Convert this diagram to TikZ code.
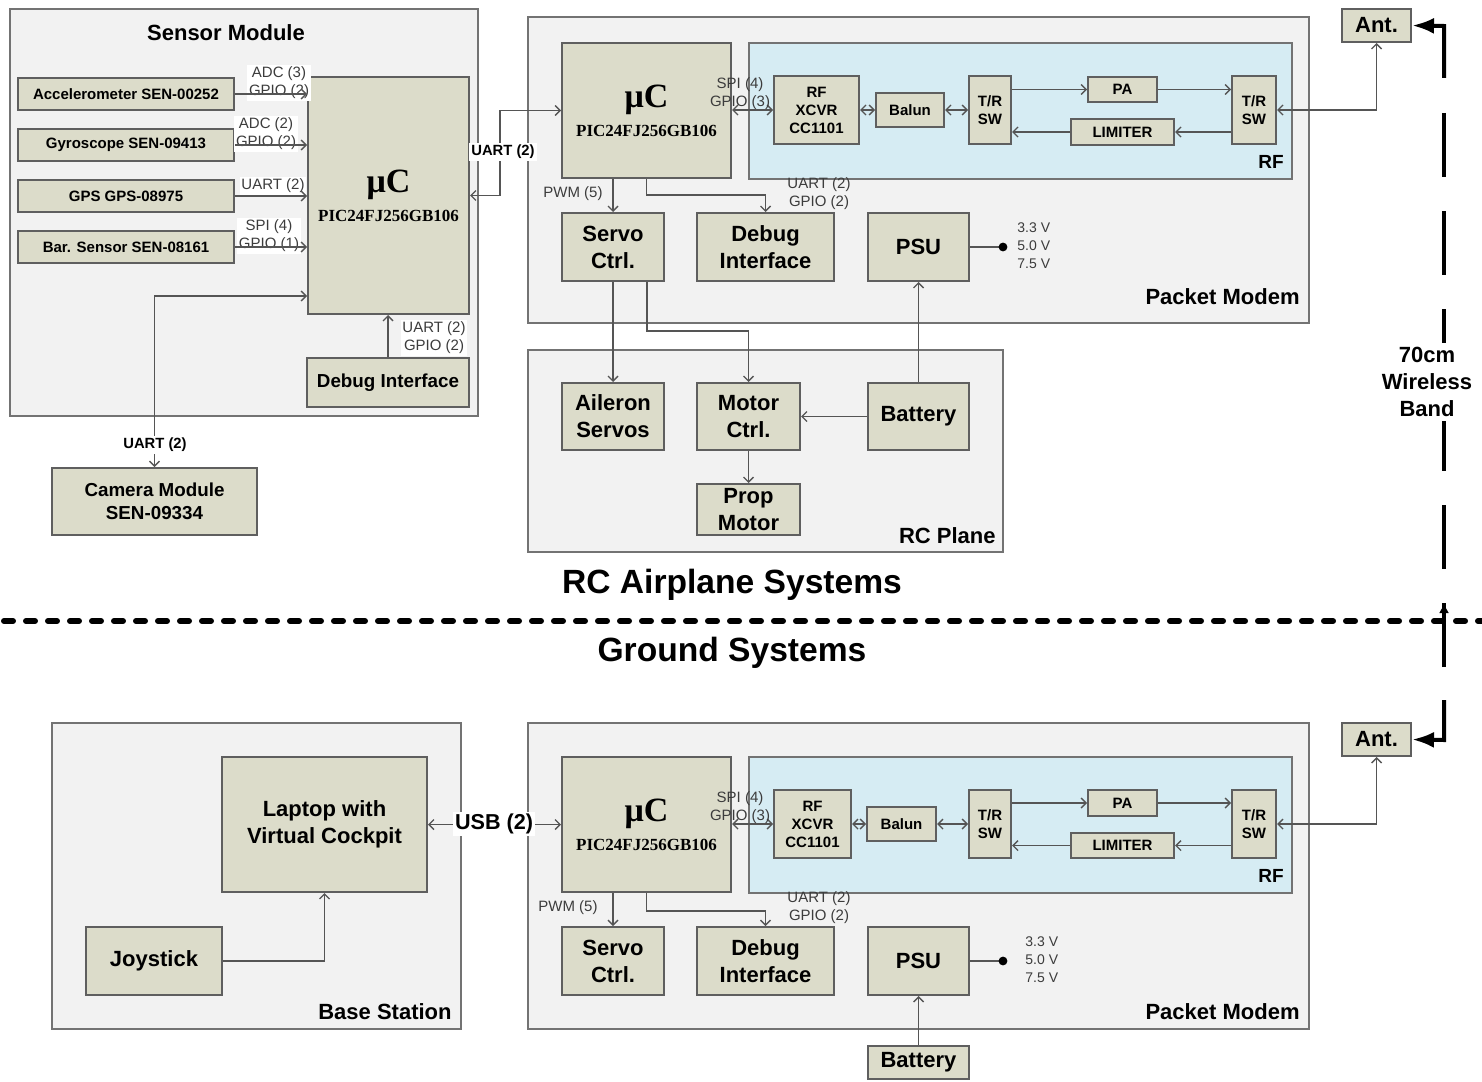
\documentclass[tikz,border=0pt]{standalone}
\usepackage{fontspec}
\setmainfont{Liberation Sans}
\newfontfamily\serifb{Liberation Serif}[BoldFont={* Bold}]
\usetikzlibrary{arrows.meta,calc}
\definecolor{boxfill}{RGB}{220,220,202}
\definecolor{boxdraw}{RGB}{95,95,95}
\definecolor{contfill}{RGB}{242,242,242}
\definecolor{contdraw}{RGB}{115,115,115}
\definecolor{rffill}{RGB}{214,236,243}
\definecolor{linec}{RGB}{85,85,85}
\definecolor{lblc}{RGB}{60,60,60}
\tikzset{
  cont/.style={draw=contdraw, fill=contfill, line width=1pt, inner sep=0pt},
  rfcont/.style={draw=contdraw, fill=rffill, line width=1pt, inner sep=0pt},
  bx/.style={draw=boxdraw, fill=boxfill, line width=1pt, inner sep=0pt, align=center,
    font=\bfseries\fontsize{11}{13.5}\selectfont},
  sbx/.style={bx, font=\bfseries\fontsize{7.5}{9}\selectfont},
  mbx/.style={bx, font=\bfseries\fontsize{9.4}{11.5}\selectfont},
  mcu/.style={bx},
  ttl/.style={font=\bfseries\fontsize{11}{13}\selectfont, inner sep=0pt},
  big/.style={font=\bfseries\fontsize{16.8}{20}\selectfont, inner sep=0pt},
  lbl/.style={font=\fontsize{7.5}{9}\selectfont, align=center, inner sep=0.8pt, text=lblc},
  wlbl/.style={lbl, fill=white},
  blbl/.style={font=\bfseries\fontsize{7.4}{9}\selectfont, align=center, inner sep=1pt, fill=white},
  vlbl/.style={font=\fontsize{7}{9}\selectfont, align=left, inner sep=0pt, text=lblc},
  conn/.style={draw=linec, line width=0.7pt},
  arr/.style={conn, -{Straight Barb[length=2.5pt,width=5pt]}},
  darr/.style={conn, {Straight Barb[length=2.5pt,width=5pt]}-{Straight Barb[length=2.5pt,width=5pt]}},
  wls/.style={draw=black, line width=2pt},
  bigtip/.style={-{Latex[length=11pt,width=8pt]}},
}
\newcommand{\mcutext}{{\serifb\bfseries\fontsize{17}{17}\selectfont μC}\\[1pt]{\serifb\bfseries\fontsize{8.5}{10}\selectfont PIC24FJ256GB106}}
\begin{document}
\begin{tikzpicture}[x=0.5pt,y=-0.5pt]
\fill[white] (0,0) rectangle (1482,1081);
\useasboundingbox (0,0) rectangle (1482,1081);

% ---------- containers ----------
\node[cont, minimum width=234pt, minimum height=203.5pt] (sensmod) at (244,212.5) {};
\node[cont, minimum width=390.5pt, minimum height=153pt] (pmtop) at (918.5,170) {};
\node[cont, minimum width=237.5pt, minimum height=101pt] (rcplane) at (765.5,451) {};
\node[cont, minimum width=204.5pt, minimum height=153pt] (basest) at (256.5,876) {};
\node[cont, minimum width=390.5pt, minimum height=153pt] (pmbot) at (918.5,876) {};
\node[rfcont, minimum width=271.5pt, minimum height=68pt] (rftop) at (1020.5,111) {};
\node[rfcont, minimum width=271.5pt, minimum height=68pt] (rfbot) at (1020.5,825) {};

\node[ttl, anchor=base] (smlbl) at (226,41) {Sensor Module};
\node[ttl, anchor=base east] (pmlbl) at (1300,304) {Packet Modem};
\node[ttl, anchor=base east] (rclbl) at (996,543) {RC Plane};
\node[ttl, anchor=base east, font=\bfseries\fontsize{9.5}{11}\selectfont] (rflbl) at (1284,168) {RF};
\node[ttl, anchor=base east] (bslbl) at (452,1019) {Base Station};
\node[ttl, anchor=base east] (pmlbl2) at (1300,1019) {Packet Modem};
\node[ttl, anchor=base east, font=\bfseries\fontsize{9.5}{11}\selectfont] (rflbl2) at (1284,882) {RF};

% ---------- titles and separator ----------
\node[big] (tair) at (732,585) {RC Airplane Systems};
\node[big] (tgnd) at (732,653) {Ground Systems};
\coordinate (sepl) at (0,621);
\coordinate (sepr) at (1482,621);
\draw[line width=3pt, line cap=round, dash pattern=on 4.5pt off 6.5pt, dash phase=-2pt] (sepl) -- (sepr);

% ---------- sensor module ----------
\node[sbx, minimum width=108pt, minimum height=16pt] (acc) at (126,94) {Accelerometer SEN-00252};
\node[sbx, minimum width=108pt, minimum height=16pt] (gyro) at (126,145) {Gyroscope SEN-09413};
\node[sbx, minimum width=108pt, minimum height=16pt] (gps) at (126,196) {GPS GPS-08975};
\node[sbx, minimum width=108pt, minimum height=16pt] (bar) at (126,247) {Bar. Sensor SEN-08161};
\node[mcu, minimum width=80.5pt, minimum height=118.5pt] (smc) at (388.5,195.5) {\mcutext};
\node[mbx, minimum width=81pt, minimum height=24.5pt] (sdbg) at (388,382.5) {Debug Interface};
\node[mbx, minimum width=102.5pt, minimum height=33.5pt] (cam) at (154.5,501.5) {Camera Module\\SEN-09334};

\node[wlbl] (lacc) at (279,83) {ADC (3)\\GPIO (2)};
\node[wlbl] (lgyro) at (266,134) {ADC (2)\\GPIO (2)};
\node[wlbl] (lgps) at (273,186) {UART (2)};
\node[wlbl] (lbar) at (269,236) {SPI (4)\\GPIO (1)};

\draw[arr] (acc.east) -- (acc.east -| smc.west);
\draw[arr] (gyro.east) -- (gyro.east -| smc.west);
\draw[arr] (gps.east) -- (gps.east -| smc.west);
\draw[arr] (bar.east) -- (bar.east -| smc.west);
\draw[darr] (cam.north) |- (smc.west |- 0,296);
\draw[arr] (sdbg.north) -- (sdbg.north |- smc.south);
\node[wlbl] (lsdbg) at (434,338) {UART (2)\\GPIO (2)};
\node[blbl] (lcam) at (155,445) {UART (2)};

% ---------- packet modem (air) ----------
\node[mcu, minimum width=84.5pt, minimum height=67.5pt] (pmc) at (646.5,110.5) {\mcutext};
\node[sbx, minimum width=42.5pt, minimum height=34pt] (xcvr) at (816.5,110) {RF\\XCVR\\CC1101};
\node[sbx, minimum width=34pt, minimum height=17pt] (balun) at (910,110) {Balun};
\node[sbx, minimum width=21pt, minimum height=34pt] (trl) at (990,110) {T/R\\SW};
\node[sbx, minimum width=34.5pt, minimum height=12.5pt] (pa) at (1122.5,89.5) {PA};
\node[sbx, minimum width=51.5pt, minimum height=13pt] (lim) at (1122.5,132) {LIMITER};
\node[sbx, minimum width=22pt, minimum height=34pt] (trr) at (1254,110) {T/R\\SW};
\node[bx, minimum width=34.5pt, minimum height=16.5pt] (anttop) at (1376.5,25.5) {Ant.};
\node[bx, minimum width=51pt, minimum height=34pt] (servo) at (613,247) {Servo\\Ctrl.};
\node[bx, minimum width=68.5pt, minimum height=34pt] (dbg) at (765.5,247) {Debug\\Interface};
\node[bx, minimum width=50.5pt, minimum height=34pt] (psu) at (918.5,247) {PSU};
\node[bx, minimum width=51pt, minimum height=33.5pt] (ail) at (613,416.5) {Aileron\\Servos};
\node[bx, minimum width=51.5pt, minimum height=33.5pt] (mot) at (748.5,416.5) {Motor\\Ctrl.};
\node[bx, minimum width=50.5pt, minimum height=33.5pt] (bat) at (918.5,416.5) {Battery};
\node[bx, minimum width=51.5pt, minimum height=25.5pt] (prop) at (748.5,509.5) {Prop\\Motor};

\coordinate (lnk) at (500,195.5);
\draw[darr] (smc.east) -- (lnk) |- (pmc.west);
\node[blbl] (llnk) at (503,152) {UART (2)};

\draw[darr] (pmc.east |- xcvr.west) -- (xcvr.west);
\draw[darr] (xcvr.east) -- (balun.west);
\draw[darr] (balun.east) -- (trl.west);
\draw[arr] (trl.east |- pa.west) -- (pa.west);
\draw[arr] (pa.east) -- (trr.west |- pa.east);
\draw[arr] (trr.west |- lim.east) -- (lim.east);
\draw[arr] (lim.west) -- (trl.east |- lim.west);
\draw[darr] (trr.east) -| (anttop.south);
\node[lbl] (lspi) at (740,94) {SPI (4)\\GPIO (3)};

\draw[arr] (pmc.south -| servo.north) -- (servo.north);
\draw[arr] (pmc.south) -- ++(0,16) -| (dbg.north);
\node[lbl] (lpwm) at (573,194) {PWM (5)};
\node[lbl] (ldbg) at (819,194) {UART (2)\\GPIO (2)};
\coordinate (vt) at (1003,247);
\draw[conn] (psu.east) -- (vt);
\fill (vt) circle (2.2pt);
\node[vlbl, anchor=west] (volt) at (1017,246) {3.3 V\\5.0 V\\7.5 V};

\draw[arr] (servo.south) -- (ail.north);
\draw[arr] ([xshift=17pt]servo.south) -- ++(0,49) -| (mot.north);
\draw[arr] (bat.west) -- (mot.east);
\draw[arr] (bat.north) -- (psu.south);
\draw[arr] (mot.south) -- (prop.north);

% ---------- ground ----------
\node[bx, minimum width=102.5pt, minimum height=67.5pt] (lap) at (324.5,824.5) {Laptop with\\Virtual Cockpit};
\node[bx, minimum width=68pt, minimum height=34pt] (joy) at (154,961) {Joystick};
\node[mcu, minimum width=84.5pt, minimum height=67.5pt] (bmc) at (646.5,824.5) {\mcutext};
\node[sbx, minimum width=38.5pt, minimum height=34pt] (bxcvr) at (812.5,824) {RF\\XCVR\\CC1101};
\node[sbx, minimum width=34.5pt, minimum height=17pt] (bbalun) at (901.5,824) {Balun};
\node[sbx, minimum width=21pt, minimum height=34pt] (btrl) at (990,824) {T/R\\SW};
\node[sbx, minimum width=34.5pt, minimum height=13pt] (bpa) at (1122.5,803) {PA};
\node[sbx, minimum width=51.5pt, minimum height=12.5pt] (blim) at (1122.5,845.5) {LIMITER};
\node[sbx, minimum width=22pt, minimum height=34pt] (btrr) at (1254,824) {T/R\\SW};
\node[bx, minimum width=34.5pt, minimum height=16.5pt] (antbot) at (1376.5,739.5) {Ant.};
\node[bx, minimum width=51pt, minimum height=34pt] (bservo) at (613,961) {Servo\\Ctrl.};
\node[bx, minimum width=68.5pt, minimum height=34pt] (bdbg) at (765.5,961) {Debug\\Interface};
\node[bx, minimum width=50.5pt, minimum height=34pt] (bpsu) at (918.5,961) {PSU};
\node[bx, minimum width=50.5pt, minimum height=16.5pt] (bbat) at (918.5,1062.5) {Battery};

\draw[arr] (joy.east) -| (lap.south);
\draw[darr] (lap.east) -- (bmc.west);
\node[font=\bfseries\fontsize{10.8}{13}\selectfont, fill=white, inner sep=1pt] (lusb) at (494,824) {USB (2)};

\draw[darr] (bmc.east |- bxcvr.west) -- (bxcvr.west);
\draw[darr] (bxcvr.east) -- (bbalun.west);
\draw[darr] (bbalun.east) -- (btrl.west);
\draw[arr] (btrl.east |- bpa.west) -- (bpa.west);
\draw[arr] (bpa.east) -- (btrr.west |- bpa.east);
\draw[arr] (btrr.west |- blim.east) -- (blim.east);
\draw[arr] (blim.west) -- (btrl.east |- blim.west);
\draw[darr] (btrr.east) -| (antbot.south);
\node[lbl] (bspi) at (740,808) {SPI (4)\\GPIO (3)};

\draw[arr] (bmc.south -| bservo.north) -- (bservo.north);
\draw[arr] (bmc.south) -- ++(0,18) -| (bdbg.north);
\node[lbl] (bpwm) at (568,908) {PWM (5)};
\node[lbl] (bldbg) at (819,908) {UART (2)\\GPIO (2)};
\coordinate (bvt) at (1003,961);
\draw[conn] (bpsu.east) -- (bvt);
\fill (bvt) circle (2.2pt);
\node[vlbl, anchor=west] (bvolt) at (1025,960) {3.3 V\\5.0 V\\7.5 V};
\draw[arr] (bbat.north) -- (bpsu.south);

% ---------- wireless band ----------
\coordinate (wt) at (1444,26);
\coordinate (wt1) at (1444,78);
\coordinate (wd1) at (1444,113);
\coordinate (wd2) at (1444,700);
\coordinate (wb) at (1444,740);
\coordinate (wm1) at (1444,667);
\coordinate (wm2) at (1444,603);
\draw[wls, bigtip] (wt1) -- (wt) -- (anttop.east);
\draw[wls, dash pattern=on 32pt off 17pt] (wd1) -- (wd2);
\draw[wls, bigtip] (wd2) -- (wb) -- (antbot.east);
\draw[wls, -{Latex[length=5pt,width=5pt]}] (wm1) -- (wm2);
\node[font=\bfseries\fontsize{11}{13.5}\selectfont, align=center, fill=white, inner sep=2pt] (wband) at (1427,382) {70cm\\Wireless\\Band};
\end{tikzpicture}
\end{document}
